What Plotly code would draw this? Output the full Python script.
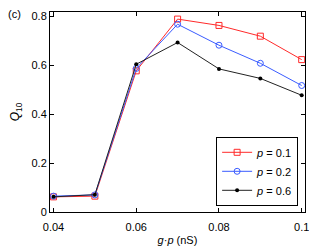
import plotly.graph_objects as go

g = [0.04, 0.05, 0.06, 0.07, 0.08, 0.09, 0.1]
q_p01 = [0.062, 0.065, 0.578, 0.790, 0.764, 0.720, 0.624]
q_p02 = [0.065, 0.070, 0.588, 0.769, 0.683, 0.609, 0.518]
q_p06 = [0.062, 0.071, 0.605, 0.694, 0.586, 0.547, 0.478]

x_ticks = [0.04, 0.06, 0.08, 0.1]
x_tick_labels = ["0.04", "0.06", "0.08", "0.1"]
y_ticks = [0, 0.2, 0.4, 0.6, 0.8]
y_tick_labels = ["0", "0.2", "0.4", "0.6", "0.8"]

FONT = "Liberation Sans, Arial, sans-serif"

fig = go.Figure()
fig.add_trace(go.Scatter(x=g, y=q_p01, mode="lines+markers", name="<i>p</i> = 0.1",
                         line=dict(color="#ff2a2a", width=1),
                         marker=dict(symbol="square-open", size=6, color="#ff2a2a", line=dict(width=1))))
fig.add_trace(go.Scatter(x=g, y=q_p02, mode="lines+markers", name="<i>p</i> = 0.2",
                         line=dict(color="#3a5cff", width=1),
                         marker=dict(symbol="circle-open", size=6, color="#3a5cff", line=dict(width=1))))
fig.add_trace(go.Scatter(x=g, y=q_p06, mode="lines+markers", name="<i>p</i> = 0.6",
                         line=dict(color="#222222", width=1),
                         marker=dict(symbol="circle", size=4, color="#000000")))

# page body has an 8px default margin, so the figure is 8px smaller and shifted
fig.update_layout(
    width=309, height=241,
    margin=dict(l=42, r=12, t=4, b=37),
    paper_bgcolor="white", plot_bgcolor="white",
    font=dict(family=FONT, size=11, color="black"),
    showlegend=True,
    legend=dict(x=0.973, y=0.031, xanchor="right", yanchor="bottom",
                bordercolor="black", borderwidth=1, bgcolor="white",
                font=dict(size=11), tracegroupgap=0, itemwidth=30),
)
fig.update_xaxes(range=[0.03915, 0.1008], tickvals=x_ticks, ticktext=x_tick_labels,
                 ticks="inside", ticklen=4, tickcolor="black", mirror="ticks",
                 showline=True, linecolor="black", linewidth=1, showgrid=False, zeroline=False,
                 automargin=False, ticklabelstandoff=5,
                 title=dict(text="<i>g</i>·<i>p</i> (nS)", standoff=4, font=dict(size=11)),
                 tickfont=dict(size=11))
fig.update_yaxes(range=[0, 0.819], tickvals=y_ticks, ticktext=y_tick_labels,
                 ticks="inside", ticklen=4, tickcolor="black", mirror="ticks",
                 showline=True, linecolor="black", linewidth=1, showgrid=False, zeroline=False,
                 automargin=False,
                 title=dict(text="<i>Q</i><sub>10</sub>", standoff=20, font=dict(size=12)),
                 tickfont=dict(size=11))
fig.add_annotation(text="(c)", xref="paper", yref="paper", x=-0.141, y=0.99,
                   xanchor="center", yanchor="middle", showarrow=False, font=dict(size=11))

fig.write_html("out.html")
